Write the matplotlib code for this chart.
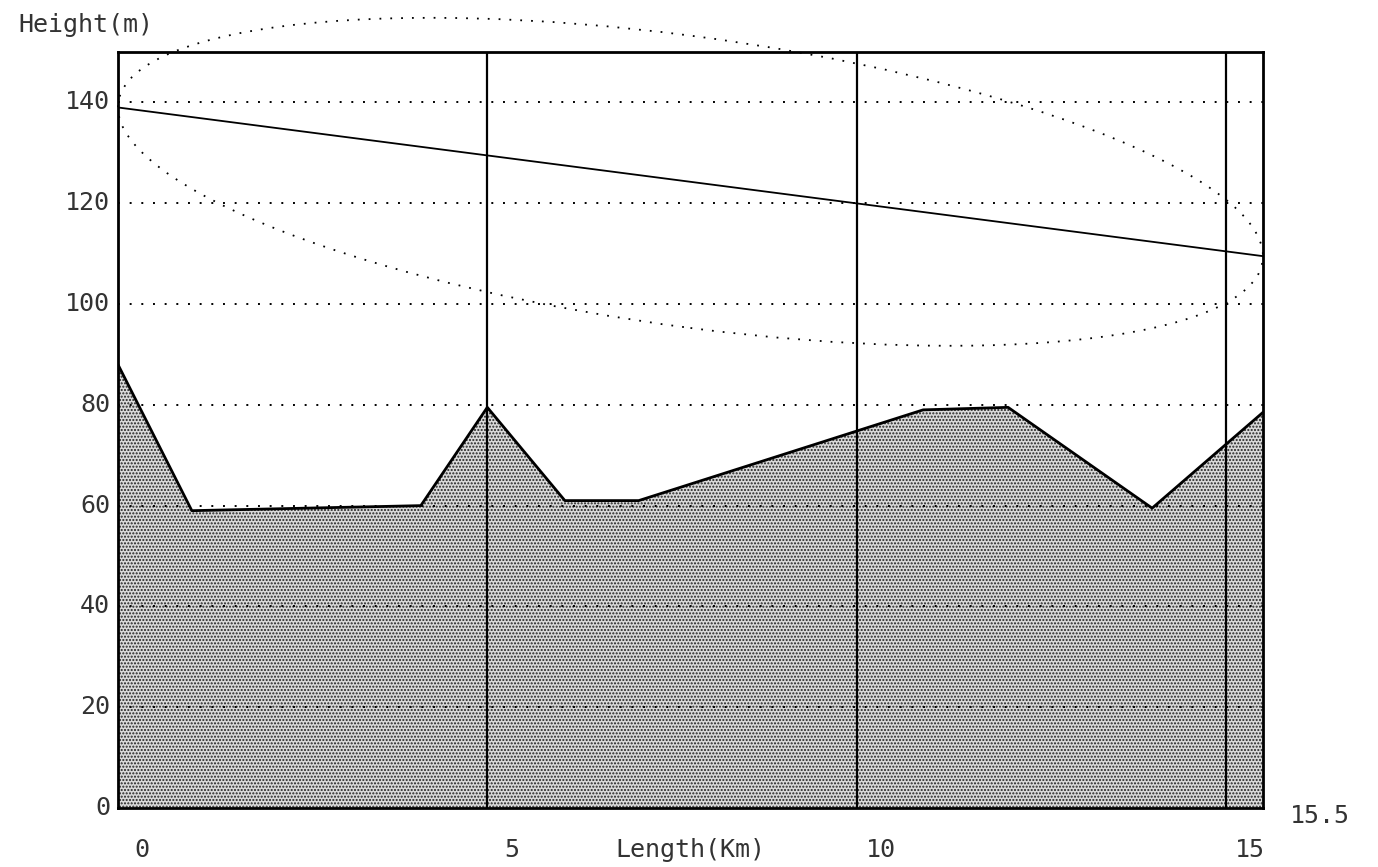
import numpy as np
import matplotlib
matplotlib.use("Agg")
import matplotlib.pyplot as plt
from matplotlib.patches import Ellipse
from matplotlib.transforms import Affine2D, ScaledTranslation

# path profile
dist_km = [0.0, 1.0, 4.1, 5.0, 6.05, 7.05, 10.9, 12.05, 14.0, 15.5]
ground_m = [88, 59, 60, 79.5, 61, 61, 79, 79.5, 59.5, 78.5]

path_len = 15.5
los_start = 139.0
los_end = 109.5
fresnel_r = 29.0

marker_km = [5, 10, 15]
ytick_vals = [0, 20, 40, 60, 80, 100, 120, 140]
xtick_vals = [0, 5, 10, 15]

plt.rcParams['font.family'] = ['DejaVu Sans Mono']
plt.rcParams['hatch.linewidth'] = 1.0
plt.rcParams['hatch.color'] = '#222222'

fig = plt.figure(figsize=(13.78, 8.67), dpi=100)
ax = fig.add_axes([0.0856, 0.068, 0.8309, 0.872])
ax.set_xlim(0, path_len)
ax.set_ylim(0, 150)

# terrain
ax.fill_between(dist_km, 0, ground_m, facecolor='#dadada', hatch='.....',
                edgecolor='#222222', linewidth=0, zorder=1)
ax.plot(dist_km, ground_m, color='black', lw=2.0, zorder=4)

# dotted grid
for v in ytick_vals[1:]:
    ax.axhline(v, color='black', lw=1.4, ls=(0, (1, 5)), zorder=3)

# km markers
for v in marker_km:
    ax.axvline(v, color='black', lw=1.6, zorder=5)

# line of sight
ax.plot([0, path_len], [los_start, los_end], color='black', lw=1.3, zorder=5)

# fresnel zone: ellipse around the LOS, sheared to follow its slope
slope = (los_end - los_start) / path_len
shear = Affine2D(np.array([[1, 0, 0], [slope, 1, los_start], [0, 0, 1]]))
ell = Ellipse((path_len / 2, 0), path_len, 2 * fresnel_r, fill=False,
              edgecolor='black', lw=1.3, ls=(0, (1, 5)),
              transform=shear + ax.transData, clip_on=False, zorder=5)
ax.add_patch(ell)

for s in ax.spines.values():
    s.set_linewidth(2.0)
    s.set_color('black')

ax.set_xticks([])
ax.set_yticks([])

txt = dict(color='#333333', fontsize=18)
for v in ytick_vals:
    ax.text(-0.007, v, str(v), transform=ax.get_yaxis_transform(),
            ha='right', va='center', **txt)
off = ScaledTranslation(0.24, 0, fig.dpi_scale_trans)
for v in xtick_vals:
    ax.text(v, -0.055, str(v), transform=ax.get_xaxis_transform() + off,
            ha='center', va='center', **txt)
ax.text(1.05, -0.01, '15.5', transform=ax.transAxes, ha='center', va='center', **txt)
ax.text(0.5, -0.055, 'Length(Km)', transform=ax.transAxes, ha='center', va='center', **txt)
fig.text(0.062, 0.971, 'Height(m)', ha='center', va='center', **txt)

fig.savefig('out.png', dpi=100)
